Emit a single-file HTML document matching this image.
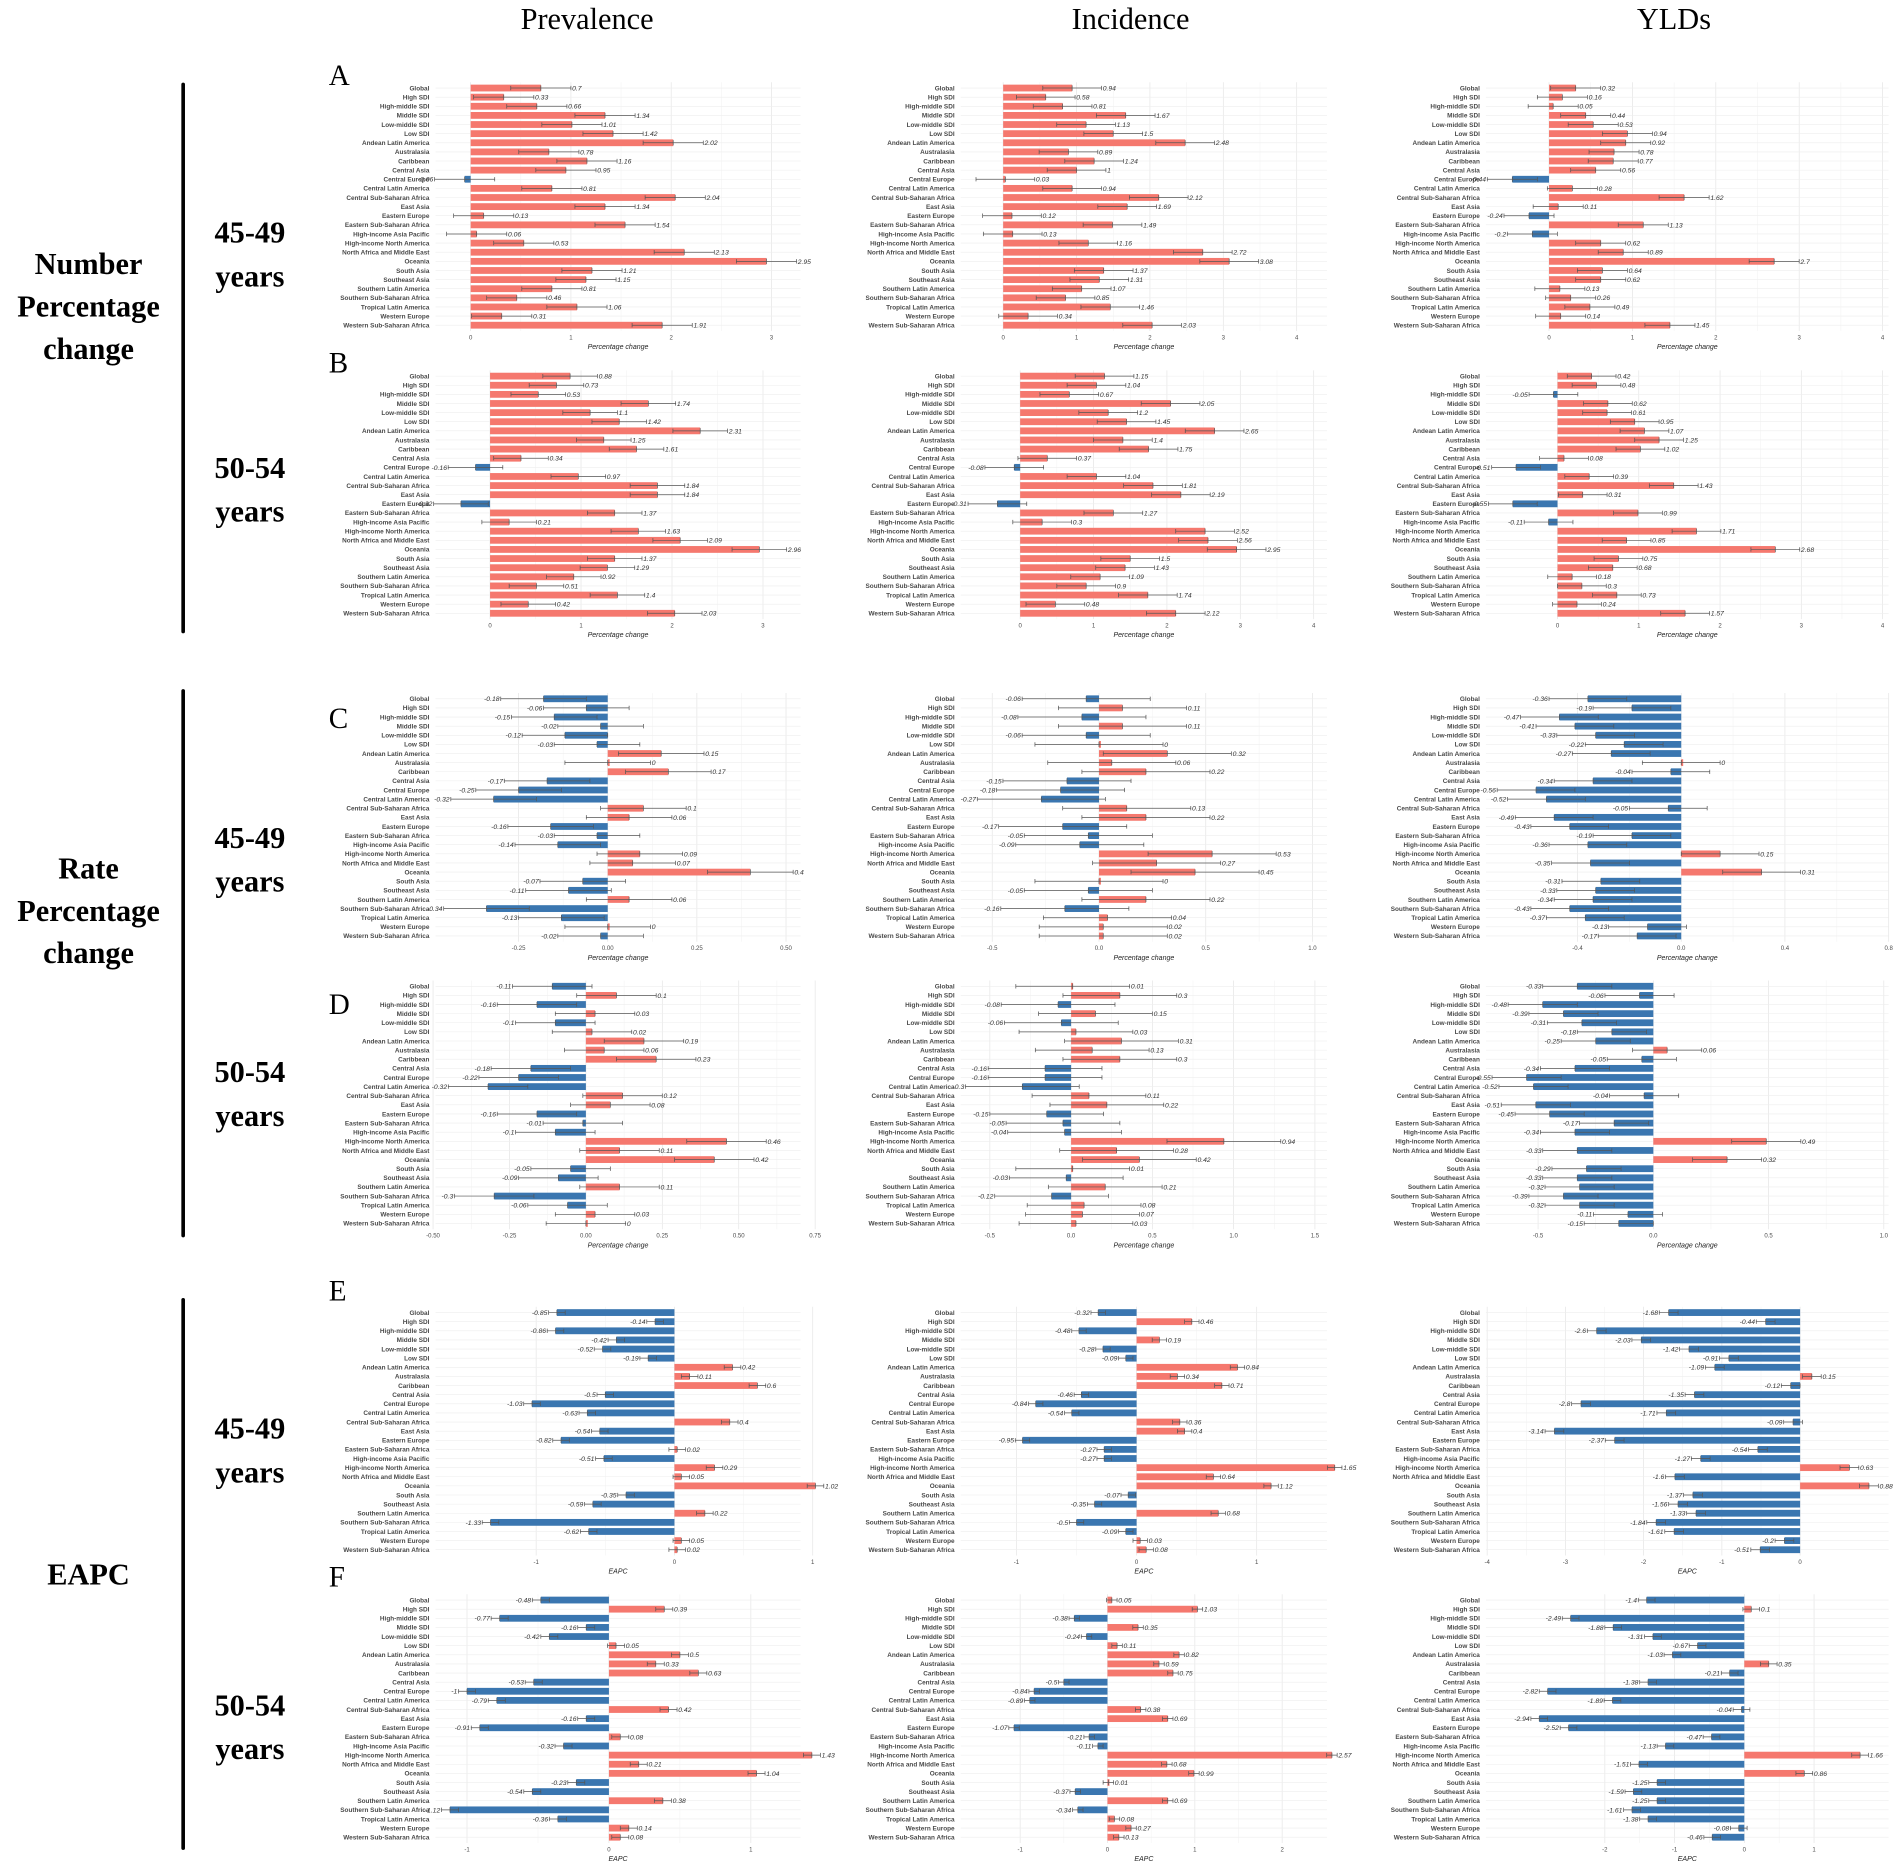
<!DOCTYPE html>
<html><head><meta charset="utf-8"><style>
html,body{margin:0;padding:0;background:#fff}
svg{display:block}
</style></head><body>
<svg id="fig" xmlns="http://www.w3.org/2000/svg" width="1902" height="1867" viewBox="0 0 1568 1539">
<rect width="1568" height="1539" fill="#fff"/>
<g font-family="Liberation Serif, serif" fill="#000">
<text x="484" y="24" font-size="25" text-anchor="middle">Prevalence</text>
<text x="932" y="24" font-size="25" text-anchor="middle">Incidence</text>
<text x="1380" y="24" font-size="25" text-anchor="middle">YLDs</text>
<g font-weight="bold" font-size="25" text-anchor="middle">
<text><tspan x="73" y="226">Number</tspan><tspan x="73" y="261">Percentage</tspan><tspan x="73" y="296">change</tspan></text>
<text><tspan x="73" y="724">Rate</tspan><tspan x="73" y="759">Percentage</tspan><tspan x="73" y="794">change</tspan></text>
<text x="73" y="1306">EAPC</text>
<text><tspan x="206" y="200">45-49</tspan><tspan x="206" y="236">years</tspan></text>
<text><tspan x="206" y="394">50-54</tspan><tspan x="206" y="430">years</tspan></text>
<text><tspan x="206" y="699">45-49</tspan><tspan x="206" y="735">years</tspan></text>
<text><tspan x="206" y="892">50-54</tspan><tspan x="206" y="928">years</tspan></text>
<text><tspan x="206" y="1186">45-49</tspan><tspan x="206" y="1222">years</tspan></text>
<text><tspan x="206" y="1414">50-54</tspan><tspan x="206" y="1450">years</tspan></text>
</g>
<rect x="149.5" y="68" width="3" height="454" rx="1.5"/>
<rect x="149.5" y="568" width="3" height="452" rx="1.5"/>
<rect x="149.5" y="1070" width="3" height="455" rx="1.5"/>
<g font-size="24">
<text x="271" y="70">A</text>
<text x="271" y="307">B</text>
<text x="271" y="600">C</text>
<text x="271" y="836">D</text>
<text x="271" y="1072">E</text>
<text x="271" y="1308">F</text>
</g>
</g>
<g id="panels"></g>
</svg>
<script>
const regions = ["Global","High SDI","High-middle SDI","Middle SDI","Low-middle SDI","Low SDI","Andean Latin America","Australasia","Caribbean","Central Asia","Central Europe","Central Latin America","Central Sub-Saharan Africa","East Asia","Eastern Europe","Eastern Sub-Saharan Africa","High-income Asia Pacific","High-income North America","North Africa and Middle East","Oceania","South Asia","Southeast Asia","Southern Latin America","Southern Sub-Saharan Africa","Tropical Latin America","Western Europe","Western Sub-Saharan Africa"];

const prevA = [0.7,0.33,0.66,1.34,1.01,1.42,2.02,0.78,1.16,0.95,-0.06,0.81,2.04,1.34,0.13,1.54,0.06,0.53,2.13,2.95,1.21,1.15,0.81,0.46,1.06,0.31,1.91];
const incA = [0.94,0.58,0.81,1.67,1.13,1.5,2.48,0.89,1.24,1,0.03,0.94,2.12,1.69,0.12,1.49,0.13,1.16,2.72,3.08,1.37,1.31,1.07,0.85,1.46,0.34,2.03];
const yldA = [0.32,0.16,0.05,0.44,0.53,0.94,0.92,0.78,0.77,0.56,-0.44,0.28,1.62,0.11,-0.24,1.13,-0.2,0.62,0.89,2.7,0.64,0.62,0.13,0.26,0.49,0.14,1.45];
const prevB = [0.88,0.73,0.53,1.74,1.1,1.42,2.31,1.25,1.61,0.34,-0.16,0.97,1.84,1.84,-0.32,1.37,0.21,1.63,2.09,2.96,1.37,1.29,0.92,0.51,1.4,0.42,2.03];
const incB = [1.15,1.04,0.67,2.05,1.2,1.45,2.65,1.4,1.75,0.37,-0.08,1.04,1.81,2.19,-0.31,1.27,0.3,2.52,2.56,2.95,1.5,1.43,1.09,0.9,1.74,0.48,2.12];
const yldB = [0.42,0.48,-0.05,0.62,0.61,0.95,1.07,1.25,1.02,0.08,-0.51,0.39,1.43,0.31,-0.55,0.99,-0.11,1.71,0.85,2.68,0.75,0.68,0.18,0.3,0.73,0.24,1.57];
const prevC = [-0.18,-0.06,-0.15,-0.02,-0.12,-0.03,0.15,0,0.17,-0.17,-0.25,-0.32,0.1,0.06,-0.16,-0.03,-0.14,0.09,0.07,0.4,-0.07,-0.11,0.06,-0.34,-0.13,0,-0.02];
const incC = [-0.06,0.11,-0.08,0.11,-0.06,0,0.32,0.06,0.22,-0.15,-0.18,-0.27,0.13,0.22,-0.17,-0.05,-0.09,0.53,0.27,0.45,0,-0.05,0.22,-0.16,0.04,0.02,0.02];
const yldC = [-0.36,-0.19,-0.47,-0.41,-0.33,-0.22,-0.27,0,-0.04,-0.34,-0.56,-0.52,-0.05,-0.49,-0.43,-0.19,-0.36,0.15,-0.35,0.31,-0.31,-0.33,-0.34,-0.43,-0.37,-0.13,-0.17];
const prevD = [-0.11,0.1,-0.16,0.03,-0.1,0.02,0.19,0.06,0.23,-0.18,-0.22,-0.32,0.12,0.08,-0.16,-0.01,-0.1,0.46,0.11,0.42,-0.05,-0.09,0.11,-0.3,-0.06,0.03,0];
const incD = [0.01,0.3,-0.08,0.15,-0.06,0.03,0.31,0.13,0.3,-0.16,-0.16,-0.3,0.11,0.22,-0.15,-0.05,-0.04,0.94,0.28,0.42,0.01,-0.03,0.21,-0.12,0.08,0.07,0.03];
const yldD = [-0.33,-0.06,-0.48,-0.39,-0.31,-0.18,-0.25,0.06,-0.05,-0.34,-0.55,-0.52,-0.04,-0.51,-0.45,-0.17,-0.34,0.49,-0.33,0.32,-0.29,-0.33,-0.32,-0.39,-0.32,-0.11,-0.15];
const prevE = [-0.85,-0.14,-0.86,-0.42,-0.52,-0.19,0.42,0.11,0.6,-0.5,-1.03,-0.63,0.4,-0.54,-0.82,0.02,-0.51,0.29,0.05,1.02,-0.35,-0.59,0.22,-1.33,-0.62,0.05,0.02];
const incE = [-0.32,0.46,-0.48,0.19,-0.28,-0.09,0.84,0.34,0.71,-0.46,-0.84,-0.54,0.36,0.4,-0.95,-0.27,-0.27,1.65,0.64,1.12,-0.07,-0.35,0.68,-0.5,-0.09,0.03,0.08];
const yldE = [-1.68,-0.44,-2.6,-2.03,-1.42,-0.91,-1.09,0.15,-0.12,-1.35,-2.8,-1.71,-0.09,-3.14,-2.37,-0.54,-1.27,0.63,-1.6,0.88,-1.37,-1.56,-1.33,-1.84,-1.61,-0.2,-0.51];
const prevF = [-0.48,0.39,-0.77,-0.16,-0.42,0.05,0.5,0.33,0.63,-0.53,-1,-0.79,0.42,-0.16,-0.91,0.08,-0.32,1.43,0.21,1.04,-0.23,-0.54,0.38,-1.12,-0.36,0.14,0.08];
const incF = [0.05,1.03,-0.38,0.35,-0.24,0.11,0.82,0.59,0.75,-0.5,-0.84,-0.89,0.38,0.69,-1.07,-0.21,-0.11,2.57,0.68,0.99,0.01,-0.37,0.69,-0.34,0.08,0.27,0.13];
const yldF = [-1.4,0.1,-2.49,-1.88,-1.31,-0.67,-1.03,0.35,-0.21,-1.38,-2.82,-1.89,-0.04,-2.94,-2.52,-0.47,-1.13,1.66,-1.51,0.86,-1.25,-1.59,-1.25,-1.61,-1.38,-0.08,-0.46];

const ticksAB = [0,1,2,3,4];
const ticksPrevC = [-0.25,0,0.25,0.5];
const tickLabelsPrevC = ["-0.25","0.00","0.25","0.50"];
const ticksIncC = [-0.5,0,0.5,1];
const tickLabelsIncC = ["-0.5","0.0","0.5","1.0"];
const ticksYldC = [-0.4,0,0.4,0.8];
const tickLabelsYldC = ["-0.4","0.0","0.4","0.8"];
const ticksPrevD = [-0.5,-0.25,0,0.25,0.5,0.75];
const tickLabelsPrevD = ["-0.50","-0.25","0.00","0.25","0.50","0.75"];
const ticksIncD = [-0.5,0,0.5,1,1.5];
const tickLabelsIncD = ["-0.5","0.0","0.5","1.0","1.5"];
const ticksYldD = [-0.5,0,0.5,1];
const tickLabelsYldD = ["-0.5","0.0","0.5","1.0"];

const NS = "http://www.w3.org/2000/svg";
const root = document.getElementById("panels");
function mk(tag, attrs, parent){const e=document.createElementNS(NS,tag);for(const k in attrs)e.setAttribute(k,attrs[k]);parent.appendChild(e);return e;}

// column layout: label right edge, plot extent
const cols = [{lab:354,left:359,right:660},{lab:787,left:792,right:1094},{lab:1220,left:1225,right:1557}];
// rows: y of first row
const rowsY = [72.5,310,576,813,1082,1319];

// panel axis calibration: two reference values and their screen x (axis function)
const panels = [
 {id:"a-prevalence",c:0,r:0,vals:prevA,v0:0,x0:388,v1:3,x1:636,ticks:[0,1,2,3],tl:null,ci:0.3,title:"Percentage change"},
 {id:"a-incidence",c:1,r:0,vals:incA,v0:0,x0:827,v1:4,x1:1069,ticks:ticksAB,tl:null,ci:0.4,title:"Percentage change"},
 {id:"a-ylds",c:2,r:0,vals:yldA,v0:0,x0:1277,v1:4,x1:1552,ticks:ticksAB,tl:null,ci:0.3,title:"Percentage change"},
 {id:"b-prevalence",c:0,r:1,vals:prevB,v0:0,x0:404,v1:3,x1:629,ticks:[0,1,2,3],tl:null,ci:0.3,title:"Percentage change"},
 {id:"b-incidence",c:1,r:1,vals:incB,v0:0,x0:841,v1:4,x1:1083,ticks:ticksAB,tl:null,ci:0.4,title:"Percentage change"},
 {id:"b-ylds",c:2,r:1,vals:yldB,v0:0,x0:1284,v1:4,x1:1552,ticks:ticksAB,tl:null,ci:0.3,title:"Percentage change"},
 {id:"c-prevalence",c:0,r:2,vals:prevC,v0:0,x0:501,v1:0.5,x1:648,ticks:ticksPrevC,tl:tickLabelsPrevC,ci:0.12,title:"Percentage change"},
 {id:"c-incidence",c:1,r:2,vals:incC,v0:0,x0:906,v1:1,x1:1082,ticks:ticksIncC,tl:tickLabelsIncC,ci:0.3,title:"Percentage change"},
 {id:"c-ylds",c:2,r:2,vals:yldC,v0:0,x0:1386,v1:0.8,x1:1557,ticks:ticksYldC,tl:tickLabelsYldC,ci:0.15,title:"Percentage change"},
 {id:"d-prevalence",c:0,r:3,vals:prevD,v0:0,x0:483,v1:0.75,x1:672,ticks:ticksPrevD,tl:tickLabelsPrevD,ci:0.13,title:"Percentage change"},
 {id:"d-incidence",c:1,r:3,vals:incD,v0:0,x0:883,v1:1.5,x1:1084,ticks:ticksIncD,tl:tickLabelsIncD,ci:0.35,title:"Percentage change"},
 {id:"d-ylds",c:2,r:3,vals:yldD,v0:0,x0:1363,v1:1,x1:1553,ticks:ticksYldD,tl:tickLabelsYldD,ci:0.15,title:"Percentage change"},
 {id:"e-prevalence",c:0,r:4,vals:prevE,v0:0,x0:556,v1:1,x1:670,ticks:[-1,0,1],tl:null,ci:0.06,title:"EAPC"},
 {id:"e-incidence",c:1,r:4,vals:incE,v0:0,x0:937,v1:1,x1:1036,ticks:[-1,0,1],tl:null,ci:0.06,title:"EAPC"},
 {id:"e-ylds",c:2,r:4,vals:yldE,v0:0,x0:1484,v1:-4,x1:1226,ticks:[-4,-3,-2,-1,0],tl:null,ci:0.12,title:"EAPC"},
 {id:"f-prevalence",c:0,r:5,vals:prevF,v0:0,x0:502,v1:1,x1:619,ticks:[-1,0,1],tl:null,ci:0.06,title:"EAPC"},
 {id:"f-incidence",c:1,r:5,vals:incF,v0:0,x0:913,v1:2,x1:1057,ticks:[-1,0,1,2],tl:null,ci:0.06,title:"EAPC"},
 {id:"f-ylds",c:2,r:5,vals:yldF,v0:0,x0:1438,v1:-2,x1:1323,ticks:[-2,-1,0,1],tl:null,ci:0.12,title:"EAPC"}
];

const rowH = 7.52, barH = 5.6;
for (const p of panels) {
  const col = cols[p.c], y0 = rowsY[p.r];
  const sx = v => p.x0 + (v - p.v0) * (p.x1 - p.x0) / (p.v1 - p.v0);
  const g = mk("g", {}, root);
  
  
  const top = y0 - rowH/2 - 1, bot = y0 + rowH*(regions.length-1) + rowH/2 + 1;
  // gridlines
  for (let i=0;i<p.ticks.length;i++){
    const t=p.ticks[i];
    const gl = mk("line",{x1:sx(t),x2:sx(t),y1:top,y2:bot,stroke:"#e6e6e6","stroke-width":0.6},g);
    
    
    if(i<p.ticks.length-1){const m=(t+p.ticks[i+1])/2;
      const gm=mk("line",{x1:sx(m),x2:sx(m),y1:top,y2:bot,stroke:"#f2f2f2","stroke-width":0.4},g);
      
      }
  }
  regions.forEach((name,i)=>{
    const y = y0 + i*rowH;
    const hl = mk("line",{x1:col.left,x2:col.right,y1:y,y2:y,stroke:"#eeeeee","stroke-width":0.5},g);
    
    
    const lt = mk("text",{x:col.lab,y:y+1.9,"font-size":5.3,"font-weight":"bold","text-anchor":"end",fill:"#4a4a4a","font-family":"Liberation Sans, sans-serif"},g);
    lt.textContent = name;
    
    
  });
  p.vals.forEach((v,i)=>{
    const y = y0 + i*rowH;
    const xa = sx(0), xb = sx(v);
    const bar = mk("rect",{x:Math.min(xa,xb),y:y-barH/2,width:Math.max(Math.abs(xb-xa),1.6),height:barH,fill:v<0?"#3a76b0":"#f5786e"},g);
    
    
    const lo = sx(v - p.ci), hi = sx(v + p.ci);
    const l=Math.min(lo,hi), r=Math.max(lo,hi);
    const eb = mk("path",{d:`M${l},${y}H${r}M${l},${y-1.8}V${y+1.8}M${r},${y-1.8}V${y+1.8}M${sx(v)},${y-2.2}V${y+2.2}`,stroke:"#555","stroke-width":0.6,fill:"none"},g);
    
    
    const lab = mk("text",{x:v<0?l-1:r+1,y:y+2,"font-size":5.6,"font-style":"italic","text-anchor":v<0?"end":"start",fill:"#333","font-family":"Liberation Sans, sans-serif"},g);
    lab.textContent = String(v);
    
    
  });
  p.ticks.forEach((t,i)=>{
    const tt = mk("text",{x:sx(t),y:bot+7,"font-size":5,"text-anchor":"middle",fill:"#4d4d4d","font-family":"Liberation Sans, sans-serif"},g);
    tt.textContent = p.tl ? p.tl[i] : String(t);
    
    
  });
  const at = mk("text",{x:(col.left+col.right)/2,y:bot+15,"font-size":5.8,"font-style":"italic","text-anchor":"middle",fill:"#222","font-family":"Liberation Sans, sans-serif"},g);
  at.textContent = p.title;
  
  
}
</script>
</body></html>
